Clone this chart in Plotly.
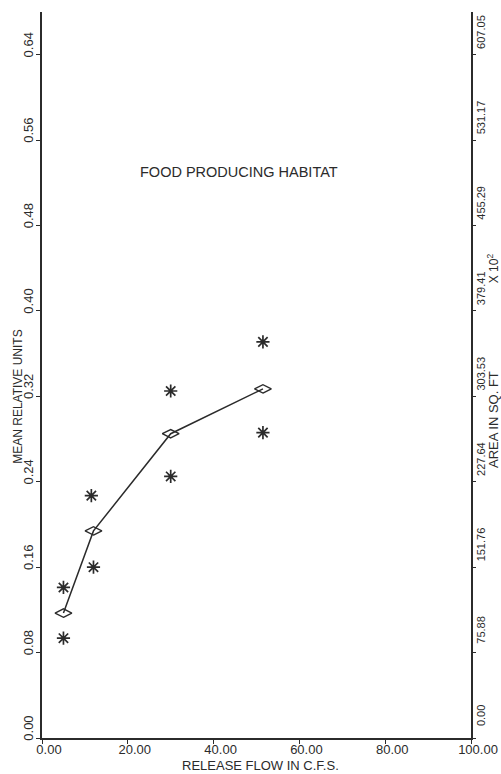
import plotly.graph_objects as go

# ---- data ----
flow = [5, 12, 30, 51.5]                 # release flow (c.f.s.)
mean_units = [0.117, 0.194, 0.285, 0.327]  # mean relative units (diamonds, line)
obs_flow = [5, 5, 11.5, 12, 30, 30, 51.5, 51.5]
obs_units = [0.141, 0.0935, 0.227, 0.160, 0.325, 0.245, 0.371, 0.286]  # asterisks

x_ticks = [0, 20, 40, 60, 80, 100]
x_ticktext = ["0.00", "20.00", "40.00", "60.00", "80.00", "100.00"]
y_ticks = [0, 0.08, 0.16, 0.24, 0.32, 0.40, 0.48, 0.56, 0.64]
y_ticktext = ["0.00", "0.08", "0.16", "0.24", "0.32", "0.40", "0.48", "0.56", "0.64"]
area_ticktext = ["0.00", "75.88", "151.76", "227.64", "303.53", "379.41",
                 "455.29", "531.17", "607.05"]

title_text = "FOOD PRODUCING HABITAT"
x_title = "RELEASE FLOW IN C.F.S."
y_title = "MEAN RELATIVE UNITS"
y2_title = "AREA IN SQ. FT"
y2_mult = "X 10<sup>2</sup>"

Y_MAX = 0.68
AREA_PER_UNIT = 75.88125 / 0.08

INK = "#2b2b2b"
FONT = "Liberation Sans, Arial, sans-serif"

fig = go.Figure()
fig.add_trace(go.Scatter(
    x=obs_flow, y=obs_units, mode="markers",
    marker=dict(symbol="asterisk-open", size=11, color=INK,
                line=dict(color=INK, width=1.7)),
    showlegend=False, hoverinfo="skip"))
fig.add_trace(go.Scatter(
    x=flow, y=mean_units, mode="lines+markers",
    line=dict(color=INK, width=1.5),
    marker=dict(symbol="diamond-wide-open", size=12, color=INK,
                line=dict(color=INK, width=1.4)),
    showlegend=False, hoverinfo="skip"))
# invisible companion trace so the right-hand area axis is drawn
fig.add_trace(go.Scatter(
    x=flow, y=[m * AREA_PER_UNIT for m in mean_units], yaxis="y2",
    mode="markers", marker=dict(opacity=0), showlegend=False, hoverinfo="skip"))

fig.update_layout(
    width=501, height=774,
    margin=dict(l=42, r=30, t=12, b=36, autoexpand=False),
    paper_bgcolor="white", plot_bgcolor="white",
    font=dict(family=FONT, color=INK),
    xaxis=dict(range=[0, 100], tickvals=x_ticks, ticktext=x_ticktext,
               showgrid=False, zeroline=False, showline=True,
               linecolor=INK, linewidth=1.5, ticks="outside", ticklen=4,
               tickcolor=INK, tickwidth=1.2,
               tickfont=dict(size=13, family=FONT, color=INK),
               ticklabelshift=7, ticklabelstandoff=-5),
    yaxis=dict(range=[0, Y_MAX], tickvals=y_ticks, ticktext=y_ticktext,
               showgrid=False, zeroline=False, showline=True,
               linecolor=INK, linewidth=1.8, ticks="outside", ticklen=4,
               tickcolor=INK, tickwidth=1.2, tickangle=-90,
               tickfont=dict(size=13, family=FONT, color=INK),
               ticklabelshift=-8, ticklabelstandoff=-2),
    yaxis2=dict(range=[0, Y_MAX * AREA_PER_UNIT], overlaying="y", side="right",
                tickvals=[float(t) for t in area_ticktext], ticktext=area_ticktext,
                showgrid=False, zeroline=False, showline=True,
                linecolor=INK, linewidth=1.5, ticks="outside", ticklen=3,
                tickcolor=INK, tickwidth=1.2, tickangle=-90,
                tickfont=dict(size=11, family="Liberation Sans Narrow, " + FONT, color=INK),
                ticklabelshift=-21, ticklabelstandoff=-4),
    annotations=[
        dict(text=title_text, x=45.9, y=0.53, xref="x", yref="y",
             showarrow=False, font=dict(size=14.5, family=FONT, color=INK)),
        dict(text=x_title, x=51, y=0, xref="x", yref="paper", yshift=-27,
             xanchor="center", yanchor="middle",
             showarrow=False, font=dict(size=13, family=FONT, color=INK)),
        dict(text=y_title, x=0, y=0.47, xref="paper", yref="paper", xshift=-24,
             xanchor="center", yanchor="middle",
             textangle=-90, showarrow=False,
             font=dict(size=12, family=FONT, color=INK)),
        dict(text=y2_title, x=1, y=0.438, xref="paper", yref="paper", xshift=22,
             xanchor="center", yanchor="middle",
             textangle=-90, showarrow=False,
             font=dict(size=13, family=FONT, color=INK)),
        dict(text=y2_mult, x=1, y=0.647, xref="paper", yref="paper", xshift=22,
             xanchor="center", yanchor="middle",
             textangle=-90, showarrow=False,
             font=dict(size=12, family=FONT, color=INK)),
    ],
)

fig.write_html(
    "out.html",
    config={"displayModeBar": False},
    post_script="document.body.style.margin='0';document.body.style.overflow='hidden';",
)
